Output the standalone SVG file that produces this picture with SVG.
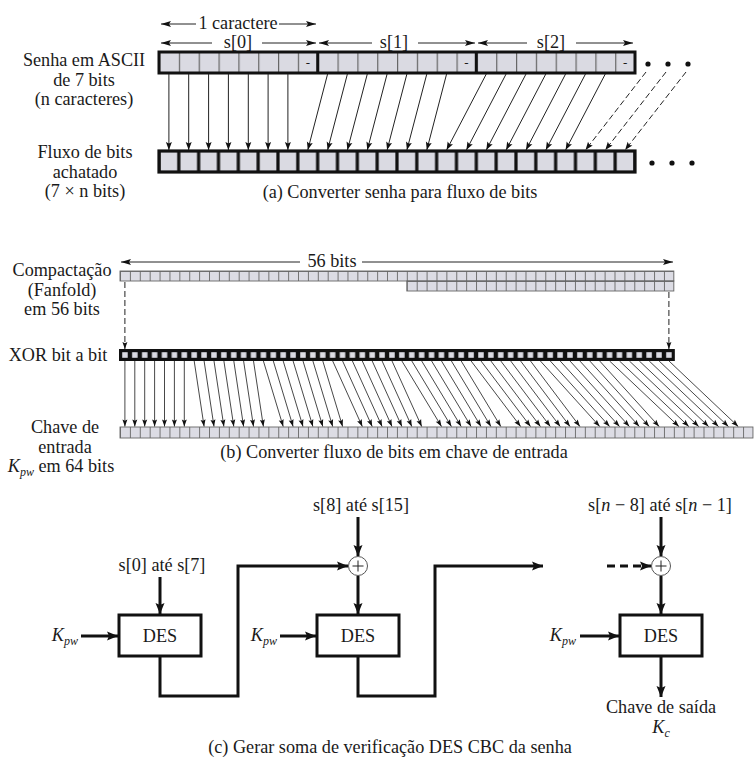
<svg xmlns="http://www.w3.org/2000/svg" width="755" height="764" viewBox="0 0 755 764">
<style>
text{font-family:"Liberation Serif","Times New Roman",serif;font-size:18.2px;fill:#1a1a1a}
.m{text-anchor:middle}
.e{text-anchor:end}
.i{font-style:italic}
.sub{font-size:12px;font-style:italic}
.thin{stroke:#222;stroke-width:1;fill:none}
.dsh{stroke:#222;stroke-width:1;fill:none;stroke-dasharray:6 3}
.thick{stroke:#111;stroke-width:3;fill:none}
.box{stroke:#111;stroke-width:3;fill:#fff}
</style>
<defs>
<marker id="ma" markerUnits="userSpaceOnUse" markerWidth="9" markerHeight="7" refX="8" refY="3" orient="auto" overflow="visible"><path d="M0,0 L8,3 L0,6 L1.5,3 z" fill="#111"/></marker>
<marker id="mb" markerUnits="userSpaceOnUse" markerWidth="8" markerHeight="6" refX="7" refY="2.5" orient="auto" overflow="visible"><path d="M0,0 L7,2.5 L0,5 L1.2,2.5 z" fill="#111"/></marker>
<marker id="mt" markerUnits="userSpaceOnUse" markerWidth="11" markerHeight="7" refX="10" refY="3" orient="auto" overflow="visible"><path d="M0,0 L10,3 L0,6 L2,3 z" fill="#111"/></marker>
<marker id="mc" markerUnits="userSpaceOnUse" markerWidth="12" markerHeight="9" refX="11" refY="4.5" orient="auto" overflow="visible"><path d="M0,0 L11,4.5 L0,9 L2,4.5 z" fill="#111"/></marker>
<pattern id="pa" patternUnits="userSpaceOnUse" x="159" y="52" width="19.833" height="21"><rect width="19.833" height="21" fill="#dadae2"/><rect x="0" y="0" width="1.2" height="21" fill="#666"/></pattern>
<pattern id="pab" patternUnits="userSpaceOnUse" x="159" y="151" width="19.833" height="21"><rect x="1.6" y="0" width="16.6" height="21" fill="#dadae2"/></pattern>
<pattern id="pg" patternUnits="userSpaceOnUse" x="120" y="271" width="9.89" height="10"><rect width="9.89" height="10" fill="#dcdce4"/><rect x="0" y="0" width="0.9" height="10" fill="#666"/><rect x="0" y="0" width="9.89" height="0.9" fill="#666"/></pattern>
<pattern id="pk" patternUnits="userSpaceOnUse" x="120" y="427" width="9.89" height="11"><rect width="9.89" height="11" fill="#dcdce4"/><rect x="0" y="0" width="0.9" height="11" fill="#666"/></pattern>
<pattern id="px" patternUnits="userSpaceOnUse" x="120" y="350" width="9.89" height="10"><rect x="2.2" y="2.2" width="5.5" height="5.6" fill="#dcdce4"/></pattern>
</defs>

<g id="part-a">
<g id="a-labels">
<text class="m" x="84" y="66">Senha em ASCII</text>
<text class="m" x="84" y="85.5">de 7 bits</text>
<text class="m" x="84" y="105">(n caracteres)</text>
<text class="m" x="85" y="158">Fluxo de bits</text>
<text class="m" x="85" y="177.5">achatado</text>
<text class="m" x="85" y="197">(7 × n bits)</text>
<text class="m" x="400" y="198">(a) Converter senha para fluxo de bits</text>
</g>
<g id="a-dims">
<line class="thin" x1="196" y1="24" x2="161" y2="24" marker-end="url(#mt)"/>
<line class="thin" x1="279" y1="24" x2="316" y2="24" marker-end="url(#mt)"/>
<text class="m" x="238" y="29">1 caractere</text>
<line class="thin" x1="212" y1="43" x2="161" y2="43" marker-end="url(#mt)"/>
<line class="thin" x1="262" y1="43" x2="316" y2="43" marker-end="url(#mt)"/>
<text class="m" x="238" y="48">s[0]</text>
<line class="thin" x1="372" y1="43" x2="319" y2="43" marker-end="url(#mt)"/>
<line class="thin" x1="418" y1="43" x2="475" y2="43" marker-end="url(#mt)"/>
<text class="m" x="394" y="48">s[1]</text>
<line class="thin" x1="527" y1="43" x2="478" y2="43" marker-end="url(#mt)"/>
<line class="thin" x1="576" y1="43" x2="633" y2="43" marker-end="url(#mt)"/>
<text class="m" x="551" y="48">s[2]</text>
</g>
<g id="a-password">
<rect x="159" y="52" width="476" height="21" fill="url(#pa)" stroke="#111" stroke-width="3"/>
<line x1="317.7" y1="52" x2="317.7" y2="73" stroke="#111" stroke-width="3"/>
<line x1="476.3" y1="52" x2="476.3" y2="73" stroke="#111" stroke-width="3"/>
<text class="m" x="307.8" y="67" style="font-size:13px">-</text>
<text class="m" x="466.4" y="67" style="font-size:13px">-</text>
<text class="m" x="625.1" y="67" style="font-size:13px">-</text>
<circle cx="648" cy="64" r="2.6" fill="#111"/>
<circle cx="668" cy="64" r="2.6" fill="#111"/>
<circle cx="688" cy="64" r="2.6" fill="#111"/>
</g>
<g id="a-stream">
<rect x="159" y="151" width="476" height="21" fill="#111"/>
<rect x="159" y="151" width="476" height="21" fill="url(#pab)"/>
<rect x="159" y="151" width="476" height="21" fill="none" stroke="#111" stroke-width="3.2"/>
<circle cx="652" cy="163" r="2.6" fill="#111"/>
<circle cx="672" cy="163" r="2.6" fill="#111"/>
<circle cx="692" cy="163" r="2.6" fill="#111"/>
</g>
</g>

<g id="part-b">
<g id="b-labels">
<text class="m" x="62" y="276">Compactação</text>
<text class="m" x="62" y="295.5">(Fanfold)</text>
<text class="m" x="62" y="315">em 56 bits</text>
<text class="m" x="58" y="361">XOR bit a bit</text>
<text class="m" x="65" y="433">Chave de</text>
<text class="m" x="65" y="452.5">entrada</text>
<text class="m" x="61" y="472"><tspan class="i">K</tspan><tspan class="sub" dy="4">pw</tspan><tspan dy="-4"> em 64 bits</tspan></text>
<text class="m" x="394" y="458">(b) Converter fluxo de bits em chave de entrada</text>
</g>
<g id="b-dim">
<line class="thin" x1="300" y1="262" x2="121" y2="262" marker-end="url(#mt)"/>
<line class="thin" x1="362" y1="262" x2="673" y2="262" marker-end="url(#mt)"/>
<text class="m" x="332" y="267">56 bits</text>
</g>
<g id="b-fanfold">
<rect x="120" y="271" width="553.84" height="10" fill="url(#pg)" stroke="#666" stroke-width="0.9"/>
<rect x="406.81" y="281" width="267.03" height="10" fill="url(#pg)" stroke="#666" stroke-width="0.9"/>
</g>
<g id="b-xor">
<rect x="119" y="349" width="555.84" height="12" fill="#111"/>
<rect x="120" y="350" width="553.84" height="10" fill="url(#px)"/>
</g>
<g id="b-key">
<rect x="120" y="427" width="632.96" height="11" fill="url(#pk)" stroke="#666" stroke-width="0.9"/>
</g>
</g>

<g id="part-c">
<g id="des1"><rect class="box" x="119" y="615" width="82" height="41"/><text class="m" x="160" y="642">DES</text></g>
<g id="des2"><rect class="box" x="317" y="615" width="82" height="41"/><text class="m" x="358" y="642">DES</text></g>
<g id="des3"><rect class="box" x="620" y="615" width="82" height="41"/><text class="m" x="661" y="642">DES</text></g>
<g id="xor1"><circle cx="358" cy="566" r="9.5" fill="#fff" stroke="#555" stroke-width="1"/><path d="M352.5 566 H363.5 M358 560.5 V571.5" stroke="#222" stroke-width="1"/></g>
<g id="xor2"><circle cx="661" cy="566" r="9.5" fill="#fff" stroke="#555" stroke-width="1"/><path d="M655.5 566 H666.5 M661 560.5 V571.5" stroke="#222" stroke-width="1"/></g>
<g id="c-labels">
<text class="m" x="162" y="571">s[0] até s[7]</text>
<text class="m" x="361" y="511">s[8] até s[15]</text>
<text class="m" x="660" y="511">s[<tspan class="i">n</tspan> − 8] até s[<tspan class="i">n</tspan> − 1]</text>
<text class="e" x="78" y="641"><tspan class="i">K</tspan><tspan class="sub" dy="4">pw</tspan></text>
<text class="e" x="277" y="641"><tspan class="i">K</tspan><tspan class="sub" dy="4">pw</tspan></text>
<text class="e" x="576" y="641"><tspan class="i">K</tspan><tspan class="sub" dy="4">pw</tspan></text>
<text class="m" x="661" y="713">Chave de saída</text>
<text class="m" x="661" y="733"><tspan class="i">K</tspan><tspan class="sub" dy="4">c</tspan></text>
<text class="m" x="390" y="753">(c) Gerar soma de verificação DES CBC da senha</text>
</g>
</g>

<g id="connectors">
<g id="a-arrows" class="thin" marker-end="url(#ma)">
<line x1="168.9" y1="74" x2="168.9" y2="150"/>
<line x1="188.7" y1="74" x2="188.7" y2="150"/>
<line x1="208.6" y1="74" x2="208.6" y2="150"/>
<line x1="228.4" y1="74" x2="228.4" y2="150"/>
<line x1="248.3" y1="74" x2="248.3" y2="150"/>
<line x1="268.1" y1="74" x2="268.1" y2="150"/>
<line x1="287.9" y1="74" x2="287.9" y2="150"/>
<line x1="327.6" y1="74" x2="307.8" y2="150"/>
<line x1="347.4" y1="74" x2="327.6" y2="150"/>
<line x1="367.3" y1="74" x2="347.4" y2="150"/>
<line x1="387.1" y1="74" x2="367.3" y2="150"/>
<line x1="406.9" y1="74" x2="387.1" y2="150"/>
<line x1="426.8" y1="74" x2="406.9" y2="150"/>
<line x1="446.6" y1="74" x2="426.8" y2="150"/>
<line x1="486.3" y1="74" x2="446.6" y2="150"/>
<line x1="506.1" y1="74" x2="466.4" y2="150"/>
<line x1="526.0" y1="74" x2="486.3" y2="150"/>
<line x1="545.8" y1="74" x2="506.1" y2="150"/>
<line x1="565.6" y1="74" x2="526.0" y2="150"/>
<line x1="585.5" y1="74" x2="545.8" y2="150"/>
<line x1="605.3" y1="74" x2="565.6" y2="150"/>
</g>
<g id="a-dashed" class="dsh" marker-end="url(#ma)">
<line x1="646" y1="72" x2="585.5" y2="150"/>
<line x1="666" y1="72" x2="605.3" y2="150"/>
<line x1="686" y1="72" x2="625.1" y2="150"/>
</g>
<g id="b-fold" class="dsh" marker-end="url(#mb)">
<line x1="124.9" y1="282" x2="124.9" y2="349"/>
<line x1="668.9" y1="292" x2="668.9" y2="349"/>
</g>
<g id="b-arrows" stroke="#333" stroke-width="0.9" fill="none" marker-end="url(#mb)">
<line x1="124.9" y1="361" x2="124.9" y2="426.5"/>
<line x1="134.8" y1="361" x2="134.8" y2="426.5"/>
<line x1="144.7" y1="361" x2="144.7" y2="426.5"/>
<line x1="154.6" y1="361" x2="154.6" y2="426.5"/>
<line x1="164.5" y1="361" x2="164.5" y2="426.5"/>
<line x1="174.4" y1="361" x2="174.4" y2="426.5"/>
<line x1="184.3" y1="361" x2="184.3" y2="426.5"/>
<line x1="194.2" y1="361" x2="204.1" y2="426.5"/>
<line x1="204.1" y1="361" x2="214.0" y2="426.5"/>
<line x1="214.0" y1="361" x2="223.9" y2="426.5"/>
<line x1="223.9" y1="361" x2="233.8" y2="426.5"/>
<line x1="233.8" y1="361" x2="243.6" y2="426.5"/>
<line x1="243.6" y1="361" x2="253.5" y2="426.5"/>
<line x1="253.5" y1="361" x2="263.4" y2="426.5"/>
<line x1="263.4" y1="361" x2="283.2" y2="426.5"/>
<line x1="273.3" y1="361" x2="293.1" y2="426.5"/>
<line x1="283.2" y1="361" x2="303.0" y2="426.5"/>
<line x1="293.1" y1="361" x2="312.9" y2="426.5"/>
<line x1="303.0" y1="361" x2="322.8" y2="426.5"/>
<line x1="312.9" y1="361" x2="332.7" y2="426.5"/>
<line x1="322.8" y1="361" x2="342.6" y2="426.5"/>
<line x1="332.7" y1="361" x2="362.3" y2="426.5"/>
<line x1="342.6" y1="361" x2="372.2" y2="426.5"/>
<line x1="352.4" y1="361" x2="382.1" y2="426.5"/>
<line x1="362.3" y1="361" x2="392.0" y2="426.5"/>
<line x1="372.2" y1="361" x2="401.9" y2="426.5"/>
<line x1="382.1" y1="361" x2="411.8" y2="426.5"/>
<line x1="392.0" y1="361" x2="421.7" y2="426.5"/>
<line x1="401.9" y1="361" x2="441.5" y2="426.5"/>
<line x1="411.8" y1="361" x2="451.4" y2="426.5"/>
<line x1="421.7" y1="361" x2="461.2" y2="426.5"/>
<line x1="431.6" y1="361" x2="471.1" y2="426.5"/>
<line x1="441.5" y1="361" x2="481.0" y2="426.5"/>
<line x1="451.4" y1="361" x2="490.9" y2="426.5"/>
<line x1="461.2" y1="361" x2="500.8" y2="426.5"/>
<line x1="471.1" y1="361" x2="520.6" y2="426.5"/>
<line x1="481.0" y1="361" x2="530.5" y2="426.5"/>
<line x1="490.9" y1="361" x2="540.4" y2="426.5"/>
<line x1="500.8" y1="361" x2="550.3" y2="426.5"/>
<line x1="510.7" y1="361" x2="560.2" y2="426.5"/>
<line x1="520.6" y1="361" x2="570.0" y2="426.5"/>
<line x1="530.5" y1="361" x2="579.9" y2="426.5"/>
<line x1="540.4" y1="361" x2="599.7" y2="426.5"/>
<line x1="550.3" y1="361" x2="609.6" y2="426.5"/>
<line x1="560.2" y1="361" x2="619.5" y2="426.5"/>
<line x1="570.0" y1="361" x2="629.4" y2="426.5"/>
<line x1="579.9" y1="361" x2="639.3" y2="426.5"/>
<line x1="589.8" y1="361" x2="649.2" y2="426.5"/>
<line x1="599.7" y1="361" x2="659.1" y2="426.5"/>
<line x1="609.6" y1="361" x2="678.9" y2="426.5"/>
<line x1="619.5" y1="361" x2="688.8" y2="426.5"/>
<line x1="629.4" y1="361" x2="698.7" y2="426.5"/>
<line x1="639.3" y1="361" x2="708.6" y2="426.5"/>
<line x1="649.2" y1="361" x2="718.5" y2="426.5"/>
<line x1="659.1" y1="361" x2="728.4" y2="426.5"/>
<line x1="669.0" y1="361" x2="738.2" y2="426.5"/>
</g>
<g id="c-arrows" class="thick">
<line x1="160" y1="577" x2="160" y2="614" marker-end="url(#mc)"/>
<line x1="81" y1="636" x2="118" y2="636" marker-end="url(#mc)"/>
<path d="M160 657 V696 H238 V566 H348" marker-end="url(#mc)"/>
<line x1="358" y1="517" x2="358" y2="556" marker-end="url(#mc)"/>
<line x1="358" y1="576" x2="358" y2="614" marker-end="url(#mc)"/>
<line x1="280" y1="636" x2="316" y2="636" marker-end="url(#mc)"/>
<path d="M358 657 V696 H435 V566 H543" marker-end="url(#mc)"/>
<line x1="607" y1="566" x2="651" y2="566" stroke-dasharray="8 5" marker-end="url(#mc)"/>
<line x1="661" y1="517" x2="661" y2="556" marker-end="url(#mc)"/>
<line x1="661" y1="576" x2="661" y2="614" marker-end="url(#mc)"/>
<line x1="580" y1="636" x2="619" y2="636" marker-end="url(#mc)"/>
<line x1="661" y1="657" x2="661" y2="697" marker-end="url(#mc)"/>
</g>
</g>
</svg>
